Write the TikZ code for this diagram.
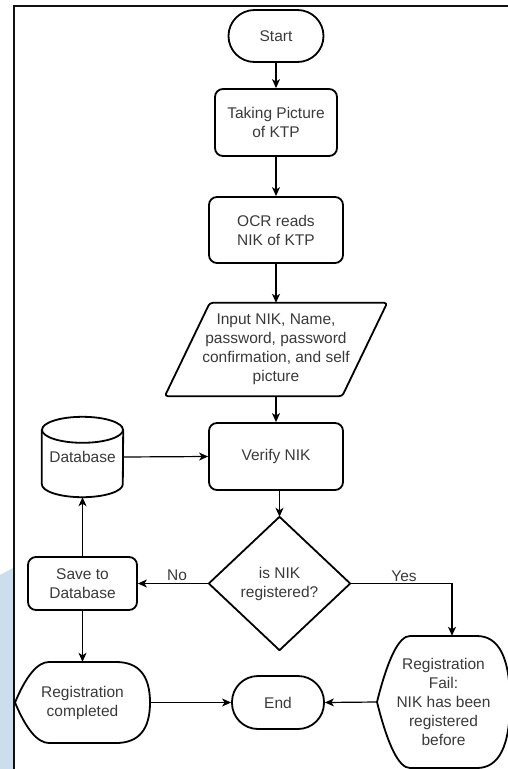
\documentclass[tikz,border=0pt]{standalone}
\usepackage{fontspec}
\setmainfont{Liberation Sans}
\usetikzlibrary{arrows.meta,calc}
\definecolor{txt}{HTML}{3A3A3A}
\definecolor{bgblue}{HTML}{CCDDEE}
\begin{document}
\begin{tikzpicture}[x=1pt,y=-1pt,
  every node/.style={font=\fontsize{15.5}{19}\selectfont, text=txt, align=center, inner sep=0pt},
  shp/.style={draw=black, line width=1.8pt, line join=round},
  box/.style={shp, rectangle, rounded corners=8pt},
  term/.style={shp, rectangle, rounded corners=26pt},
  conn/.style={line width=1.2pt, -{Stealth[length=9pt,width=8pt,inset=2.5pt]}}]
\useasboundingbox (0,0) rectangle (508,769);
\fill[white] (0,0) rectangle (508,769);
\fill[bgblue] (0,575) -- (13,568) -- (13,769) -- (0,769) -- cycle;
\draw[line width=2.2pt, draw={rgb,255:red,17;green,17;blue,17}] (14,770) -- (14,6) -- (509,6);

% nodes
\node[term, minimum width=95pt, minimum height=52pt] (start) at (276,36) {Start};
\node[box, minimum width=122pt, minimum height=67pt] (take) at (276,122.5) {Taking Picture\\of KTP};
\node[box, minimum width=134pt, minimum height=66pt] (ocr) at (276,230) {OCR reads\\NIK of KTP};
\node[minimum width=222pt, minimum height=93pt] (inp) at (276,349.5) {Input NIK, Name,\\password, password\\confirmation, and self\\picture};
\draw[shp, rounded corners=3pt] ($(inp.north west)+(45,0)$) -- (inp.north east) -- ($(inp.south east)+(-45,0)$) -- (inp.south west) -- cycle;
\node[box, minimum width=134pt, minimum height=67pt] (ver) at (276,456.5) {Verify NIK};

\node[minimum width=81pt, minimum height=80pt] (db) at (82.5,457) {Database};
\draw[shp] ($(db.north)+(0,13)$) ellipse [x radius=40.5pt, y radius=13pt];
\draw[shp] ($(db.north west)+(0,13)$) -- ($(db.south west)+(0,-13)$) arc[start angle=180, end angle=360, x radius=40.5pt, y radius=13pt] -- ($(db.north east)+(0,13)$);

\node[box, minimum width=109pt, minimum height=53pt] (save) at (82.5,583.5) {Save to\\Database};
\node[minimum width=141pt, minimum height=133pt] (dia) at (279.5,583.5) {is NIK\\registered?};
\draw[shp] (dia.north) -- (dia.east) -- (dia.south) -- (dia.west) -- cycle;

\node[minimum width=135pt, minimum height=81pt] (comp) at (82.5,702.5) {Registration\\completed};
\draw[shp] (49,662) -- (116,662) .. controls (138.7,662) and (150,675.5) .. (150,702.5)
  .. controls (150,729.5) and (138.7,743) .. (116,743) -- (49,743)
  .. controls (37.7,743) and (26.3,729.5) .. (15,702.5)
  .. controls (26.3,675.5) and (37.7,662) .. (49,662) -- cycle;

\node[minimum width=133pt, minimum height=132pt] (fail) at (443.5,702) {Registration\\Fail:\\NIK has been\\registered\\before};
\draw[shp] (410,636) -- (477,636) .. controls (499,636) and (510,658) .. (510,702)
  .. controls (510,746) and (499,768) .. (477,768) -- (410,768)
  .. controls (399,768) and (388,746) .. (377,702)
  .. controls (388,658) and (399,636) .. (410,636) -- cycle;

\node[term, minimum width=92pt, minimum height=53pt] (end) at (278,702.5) {End};

\node (no) at (177,575) {No};
\node (yes) at (404,576) {Yes};
\coordinate (failin) at ($(fail.north)+(8.5,0)$);

% connectors
\draw[conn] (start) -- (take);
\draw[conn] (take) -- (ocr);
\draw[conn] (ocr) -- (inp.north);
\draw[conn] (inp.south) -- (ver);
\draw[conn] (db.east) -- (ver.west);
\draw[conn] (ver.south -| dia.north) -- (dia.north);
\draw[conn] (dia.west) -- (save.east);
\draw[conn] (dia.east) -| (failin);
\draw[conn] (save.north) -- (db.south);
\draw[conn] (save.south) -- (comp.north);
\draw[conn] (comp.east) -- (end.west);
\draw[conn] (fail.west) -- (end.east);
\end{tikzpicture}
\end{document}
